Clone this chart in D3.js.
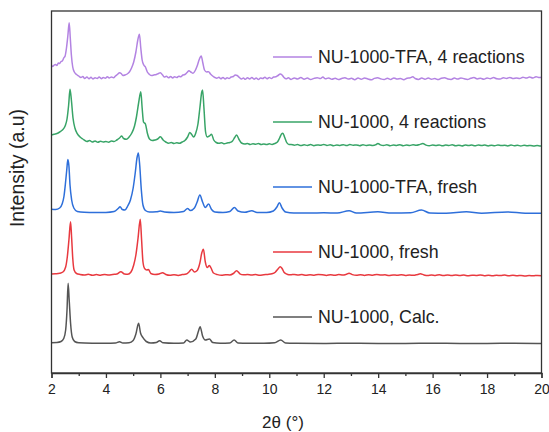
<!DOCTYPE html>
<html><head><meta charset="utf-8">
<script src="https://cdn.jsdelivr.net/npm/d3@7"></script>
<style>body{margin:0;background:#fff}svg{display:block}</style>
</head><body><svg id="c" width="549" height="432"></svg>
<script>
// ---- data (2θ in degrees, intensity in a.u. with display offsets) ----
const xMajorTicks = [2, 4, 6, 8, 10, 12, 14, 16, 18, 20];
const xMinorTicks = [3, 5, 7, 9, 11, 13, 15, 17, 19];
const seriesNames = ["NU-1000-TFA, 4 reactions", "NU-1000, 4 reactions", "NU-1000-TFA, fresh", "NU-1000, fresh", "NU-1000, Calc."];
const seriesColors = ["#b383e2", "#38a467", "#2e6fda", "#e8393f", "#555555"];

const calc = [[2.00,30.3],[2.20,30.5],[2.35,31.5],[2.45,34.5],[2.52,43],[2.57,63],[2.61,89.7],[2.65,73],[2.70,50],[2.76,36],[2.85,31.5],[3.0,30.2],[3.5,29.8],[4.0,29.7],[4.35,30],[4.5,31.3],[4.62,30],[4.85,30.2],[5.0,32.5],[5.1,39],[5.2,49.7],[5.27,40],[5.36,35.3],[5.48,31.5],[5.65,30],[5.85,30.5],[5.97,32.3],[6.1,30.2],[6.5,29.7],[6.85,30],[6.97,33],[7.1,31],[7.3,34],[7.4,42],[7.46,46.3],[7.55,37],[7.65,33],[7.8,34],[7.92,30.5],[8.2,29.7],[8.55,30],[8.71,33],[8.85,30],[9.2,29.7],[9.8,29.7],[10.2,30.2],[10.42,33],[10.6,30],[11.0,29.7],[12,29.5],[13,29.8],[14,29.6],[15,29.6],[16,29.8],[17,29.6],[18,29.6],[19,29.7],[20,29.6]];

const fresh = [[2.00,99],[2.15,99.2],[2.30,99.7],[2.42,101],[2.52,106],[2.58,116],[2.64,133],[2.70,151.3],[2.74,135],[2.78,115],[2.83,103],[2.92,99.5],[3.05,98.5],[3.2,98],[3.35,98.7],[3.5,97.7],[3.65,98.4],[3.8,97.8],[3.95,98.5],[4.1,98],[4.25,98.6],[4.4,99],[4.55,101.3],[4.68,99],[4.8,98.7],[4.92,101],[5.02,108],[5.1,118],[5.18,135],[5.26,153.7],[5.31,133],[5.36,111],[5.42,104.5],[5.5,103],[5.56,103.5],[5.65,99.5],[5.8,98.5],[5.95,99],[6.08,100.3],[6.2,98.5],[6.35,97.7],[6.5,98.2],[6.65,97.6],[6.8,98.4],[6.95,99],[7.05,101],[7.15,103.7],[7.25,101],[7.35,102.5],[7.45,110],[7.52,120],[7.58,123.7],[7.65,111],[7.72,105.5],[7.8,107.5],[7.86,105],[7.95,100],[8.1,98.4],[8.25,97.8],[8.4,98.3],[8.55,98],[8.68,99.5],[8.8,102.3],[8.92,99.2],[9.05,98.2],[9.2,98.5],[9.35,97.9],[9.5,98.4],[9.65,97.8],[9.8,98.3],[9.95,98.6],[10.1,99.2],[10.22,100.8],[10.32,104],[10.4,106.3],[10.47,104.5],[10.55,100.5],[10.65,98.8],[10.78,98.2],[10.92,98.6],[11.06,97.9],[11.2,98.4],[11.35,97.7],[11.5,98.3],[11.65,97.8],[11.8,98.5],[11.95,98.2],[12.1,97.6],[12.25,98.3],[12.4,97.8],[12.55,98.4],[12.7,97.9],[12.82,98.6],[12.93,99.8],[13.05,98.4],[13.2,97.7],[13.35,98.2],[13.5,97.6],[13.65,98.3],[13.8,97.8],[13.95,98.5],[14.1,97.9],[14.25,98.2],[14.4,97.5],[14.55,98.1],[14.7,97.7],[14.85,98.3],[15.0,97.6],[15.15,98],[15.3,97.7],[15.45,98.6],[15.55,99.2],[15.68,98.1],[15.82,97.5],[15.96,98],[16.1,97.6],[16.25,98.2],[16.4,97.4],[16.55,97.9],[16.7,97.5],[16.85,98.1],[17.0,97.4],[17.15,97.9],[17.3,97.3],[17.45,97.8],[17.6,97.5],[17.75,98],[17.9,97.3],[18.05,97.8],[18.2,97.2],[18.35,97.7],[18.5,97.4],[18.65,97.9],[18.8,97.3],[18.95,97.7],[19.1,97.2],[19.25,97.6],[19.4,97.1],[19.55,97.5],[19.7,97.2],[19.85,97.6],[20.0,97.2]];

const tfaFresh = [[2.00,163.7],[2.15,163.5],[2.30,165],[2.39,169],[2.46,177],[2.51,189],[2.56,203],[2.60,213.5],[2.64,207],[2.68,188],[2.74,173],[2.82,165],[2.95,161.5],[3.2,160.7],[3.6,160.5],[4.0,160.6],[4.3,161.5],[4.45,164.5],[4.52,166.3],[4.6,163.5],[4.7,163],[4.8,167],[4.9,173],[5.0,185],[5.08,201],[5.14,215],[5.19,220],[5.24,208],[5.3,183],[5.36,168],[5.45,162.5],[5.6,161],[5.85,161.2],[6.0,162],[6.15,161],[6.5,160.5],[6.85,161.5],[7.0,164.5],[7.1,162.5],[7.25,165],[7.35,171],[7.45,178],[7.55,171],[7.65,165.5],[7.77,169],[7.88,163.5],[8.0,161],[8.3,160.5],[8.55,161.5],[8.72,165.5],[8.85,162],[9.1,160.7],[9.36,162.3],[9.55,160.5],[9.9,160.5],[10.15,162],[10.28,166],[10.37,170.3],[10.47,165],[10.6,161],[10.9,160],[11.5,160],[12.0,160.2],[12.5,160],[12.93,162.3],[13.2,160],[13.99,161.2],[14.5,160],[15.2,160.2],[15.59,163],[15.9,160],[16.5,159.8],[17.24,161.2],[17.8,159.8],[18.75,161],[19.4,159.8],[20.0,159.7]];

const reacted = [[2.00,238],[2.1,238.8],[2.2,239.5],[2.3,241],[2.4,243],[2.5,247],[2.57,254],[2.63,268],[2.68,283.7],[2.73,273],[2.79,255],[2.86,245],[2.94,239.7],[3.05,236],[3.15,234],[3.3,231.5],[3.4,232.5],[3.5,231],[3.6,232],[3.7,230.7],[3.8,231.8],[3.9,231],[4.0,231.5],[4.1,230.8],[4.2,232],[4.3,231.5],[4.4,233],[4.5,235],[4.58,237],[4.65,234.5],[4.75,233.7],[4.85,236],[4.95,240],[5.05,247],[5.12,256],[5.2,270],[5.28,281.3],[5.33,265],[5.38,251],[5.45,249],[5.52,240],[5.6,234],[5.7,232.5],[5.8,233],[5.9,234],[6.0,236.3],[6.1,233],[6.2,231],[6.3,229.7],[6.4,230.5],[6.5,229.5],[6.6,230.2],[6.7,229.7],[6.8,231],[6.9,232.5],[7.0,236],[7.08,240.5],[7.15,238.5],[7.22,236],[7.3,240],[7.38,249],[7.45,265],[7.52,281],[7.55,283],[7.6,265],[7.66,241],[7.72,236],[7.8,237],[7.88,238.7],[7.96,233],[8.05,230.5],[8.15,229.7],[8.25,230.2],[8.35,229.2],[8.45,230],[8.55,230.5],[8.65,232],[8.73,235.5],[8.8,238],[8.88,234],[8.98,230],[9.1,229],[9.2,229.5],[9.3,228.5],[9.4,229.3],[9.5,228.7],[9.6,229.5],[9.7,228.5],[9.8,229],[9.9,228.4],[10.0,229.2],[10.1,228.5],[10.2,229.5],[10.3,231],[10.38,235],[10.45,239],[10.5,239.7],[10.56,236],[10.63,231],[10.72,228.5],[10.8,228.6],[10.92,227.8],[11.04,228.5],[11.16,227.4],[11.28,228.2],[11.4,227.6],[11.52,228.4],[11.64,227.3],[11.76,228.1],[11.88,227.7],[12.0,228.6],[12.12,227.5],[12.24,228.2],[12.36,227.2],[12.48,228],[12.6,227.6],[12.72,228.3],[12.84,227.4],[12.96,228.5],[13.08,227.7],[13.2,228.1],[13.32,227.3],[13.44,228.2],[13.56,227.6],[13.68,228],[13.8,227.4],[13.92,228.3],[13.99,229.6],[14.08,228.1],[14.2,227.5],[14.32,228.2],[14.44,227.3],[14.56,228],[14.68,227.6],[14.8,228.3],[14.92,227.2],[15.04,228],[15.16,227.5],[15.28,228.2],[15.4,227.7],[15.52,228.4],[15.64,229.5],[15.76,227.9],[15.88,227.3],[16.0,228],[16.12,227.4],[16.24,228.1],[16.36,227.2],[16.48,227.9],[16.6,227.5],[16.72,228.2],[16.84,227.3],[16.96,227.8],[17.08,227.1],[17.2,228],[17.32,227.4],[17.44,227.9],[17.56,227.2],[17.68,228.1],[17.8,227.5],[17.92,227.9],[18.04,227.1],[18.16,227.8],[18.28,227.3],[18.4,228],[18.52,227.4],[18.64,227.8],[18.76,227.1],[18.88,227.9],[19.0,227.3],[19.12,227.7],[19.24,227],[19.36,227.8],[19.48,227.2],[19.6,227.6],[19.72,227],[19.84,227.5],[19.96,227.1],[20.0,227.3]];

const tfaReacted = [[2.00,307.5],[2.05,306.5],[2.1,308],[2.15,308.5],[2.2,307.5],[2.25,310],[2.3,309.5],[2.35,311.5],[2.4,312],[2.45,315],[2.5,317],[2.55,325],[2.6,337],[2.65,350.3],[2.69,335],[2.73,318],[2.78,306],[2.84,301],[2.92,298.5],[3.0,297],[3.08,295.5],[3.15,296.5],[3.22,294.5],[3.3,296],[3.38,294.2],[3.45,295.7],[3.52,294],[3.6,295.2],[3.68,294.5],[3.75,296],[3.83,294.3],[3.9,295.5],[3.98,294.8],[4.05,296.2],[4.12,295],[4.2,296],[4.28,295.2],[4.35,297],[4.42,298.5],[4.5,300.3],[4.56,299.5],[4.62,297.5],[4.7,298],[4.78,299],[4.86,301],[4.94,305],[5.02,311],[5.1,321],[5.17,333],[5.23,338.7],[5.28,325],[5.33,313],[5.39,308],[5.45,306],[5.52,301],[5.6,298.5],[5.68,297.5],[5.76,298],[5.85,298.5],[5.93,299.5],[6.0,300.3],[6.08,298],[6.15,296],[6.22,296.8],[6.3,295.2],[6.38,296.5],[6.45,295],[6.52,296.2],[6.6,295.5],[6.68,296.8],[6.75,296.2],[6.83,298],[6.9,298.5],[6.98,300.5],[7.05,302.3],[7.12,301],[7.2,299.7],[7.28,302.5],[7.35,307],[7.42,313],[7.5,317],[7.56,310],[7.62,303],[7.7,301],[7.77,301.3],[7.84,299],[7.92,297],[8.0,295.5],[8.07,294.7],[8.15,295.8],[8.22,294.2],[8.3,295.5],[8.38,294],[8.45,295.2],[8.52,294.5],[8.6,296],[8.68,296.5],[8.75,298],[8.82,297.5],[8.9,295.5],[8.98,294],[9.05,295],[9.12,293.7],[9.2,295.2],[9.28,294.1],[9.36,295.5],[9.44,293.8],[9.52,295],[9.6,293.5],[9.68,295.1],[9.76,294.4],[9.84,295.8],[9.92,294.2],[10.0,295.5],[10.08,294.5],[10.16,296],[10.24,296.2],[10.32,297.5],[10.4,299],[10.47,298],[10.54,295.5],[10.62,294.2],[10.7,295.2],[10.8,293.6],[10.92,295],[11.04,294.1],[11.16,295.4],[11.28,293.8],[11.4,294.9],[11.52,293.5],[11.64,294.6],[11.76,295.3],[11.88,294.4],[11.97,296],[12.06,294.2],[12.18,295.1],[12.3,293.7],[12.42,294.8],[12.54,293.4],[12.66,294.5],[12.78,295.2],[12.9,293.9],[13.02,294.7],[13.14,293.3],[13.26,294.9],[13.38,293.8],[13.5,295],[13.62,294],[13.74,293.2],[13.86,294.6],[13.98,295.3],[14.1,294.1],[14.22,293.5],[14.34,294.8],[14.46,293.6],[14.58,295.1],[14.7,293.9],[14.82,294.4],[14.94,293.3],[15.06,294.7],[15.18,295.2],[15.27,296.2],[15.36,294.5],[15.48,293.6],[15.6,294.9],[15.72,293.8],[15.84,295],[15.96,293.7],[16.08,294.5],[16.2,293.4],[16.32,294.8],[16.44,295.3],[16.56,294],[16.68,293.6],[16.8,294.9],[16.92,293.9],[17.04,295.1],[17.16,294.2],[17.28,293.5],[17.4,294.7],[17.52,295.4],[17.64,294.1],[17.76,294.8],[17.88,293.7],[18.0,295],[18.12,294.3],[18.24,295.4],[18.36,294.2],[18.48,293.9],[18.6,295.2],[18.72,294.5],[18.84,295.6],[18.96,294.4],[19.08,295.1],[19.2,294.6],[19.32,295.8],[19.44,294.9],[19.56,296],[19.68,295.1],[19.8,296.3],[19.92,295.4],[20.0,295.8]];

const seriesData = [tfaReacted, reacted, tfaFresh, fresh, calc];
const xLabel = "2\u03B8 (\u00B0)";
const yLabel = "Intensity (a.u)";

// ---- drawing ----
const svg = d3.select("#c");
const W = 549, H = 432;
const m = {left: 51.5, right: 7.5, top: 11, bottom: 59};
const x = d3.scaleLinear().domain([2, 20]).range([m.left, W - m.right]);
const y = d3.scaleLinear().domain([0, 362]).range([H - m.bottom, m.top]);
const font = "Arial, 'Liberation Sans', Helvetica, sans-serif";
const ink = "#333";

svg.append("defs").append("clipPath").attr("id", "clip")
  .append("rect").attr("x", x(2)).attr("y", y(362)).attr("width", x(20) - x(2)).attr("height", y(0) - y(362));

const line = d3.line().x(d => x(d[0])).y(d => y(d[1])).curve(d3.curveMonotoneX);
const g = svg.append("g").attr("clip-path", "url(#clip)");
seriesData.forEach((s, i) => {
  g.append("path").datum(s).attr("d", line).attr("fill", "none")
    .attr("stroke", seriesColors[i]).attr("stroke-width", 1.5).attr("stroke-linejoin", "round");
});

// frame
svg.append("rect").attr("x", x(2)).attr("y", y(362)).attr("width", x(20) - x(2)).attr("height", y(0) - y(362))
  .attr("fill", "none").attr("stroke", ink).attr("stroke-width", 1.3);

// x axis
const ax = svg.append("g").attr("transform", `translate(0,${y(0)})`)
  .call(d3.axisBottom(x).tickValues(xMajorTicks).tickSize(5).tickPadding(6).tickFormat(d3.format("d")));
ax.select(".domain").attr("stroke", ink).attr("stroke-width", 1.3);
ax.selectAll(".tick line").attr("stroke", ink).attr("stroke-width", 1.3);
ax.selectAll(".tick text").attr("font-family", font).attr("font-size", 14).attr("fill", "#222");
const axm = svg.append("g").attr("transform", `translate(0,${y(0)})`)
  .call(d3.axisBottom(x).tickValues(xMinorTicks).tickSize(3).tickFormat(""));
axm.select(".domain").remove();
axm.selectAll(".tick line").attr("stroke", ink).attr("stroke-width", 1.3);

// axis titles
svg.append("text").attr("x", 283).attr("y", 428).attr("text-anchor", "middle")
  .attr("font-family", font).attr("font-size", 17).attr("fill", "#222").text(xLabel);
svg.append("text").attr("transform", "translate(24,168) rotate(-90)").attr("text-anchor", "middle")
  .attr("font-family", font).attr("font-size", 19.5).attr("fill", "#222").text(yLabel);

// legend
const lg = svg.append("g");
seriesNames.forEach((n, i) => {
  const ly = 57 + i * 65;
  lg.append("line").attr("x1", 273).attr("x2", 312).attr("y1", ly).attr("y2", ly)
    .attr("stroke", seriesColors[i]).attr("stroke-width", 1.5);
  lg.append("text").attr("x", 318).attr("y", ly).attr("dy", "0.35em")
    .attr("font-family", font).attr("font-size", 17.8).attr("fill", "#222").text(n);
});
</script></body></html>
